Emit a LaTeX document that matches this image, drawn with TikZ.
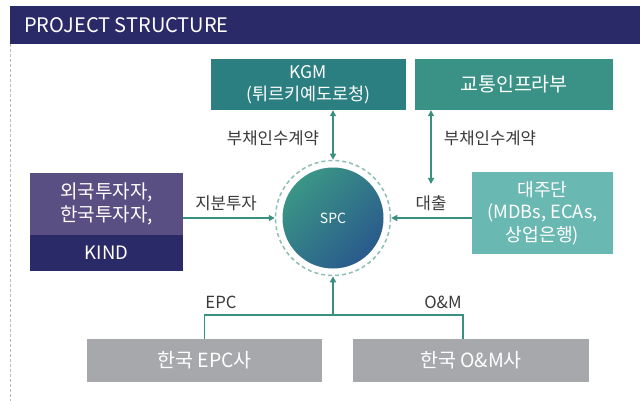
\documentclass[tikz,border=0pt]{standalone}
\usepackage{fontspec}
\setmainfont{Noto Sans CJK KR}
\usetikzlibrary{arrows.meta,calc}
\definecolor{navy}{HTML}{2B2A68}
\definecolor{purp}{HTML}{5A4F83}
\definecolor{tealA}{HTML}{2B7F80}
\definecolor{tealB}{HTML}{399285}
\definecolor{tealC}{HTML}{6AB8B2}
\definecolor{grayBox}{HTML}{A7A8AB}
\definecolor{arrowc}{HTML}{3A9080}
\definecolor{ringc}{HTML}{8DBDB4}
\definecolor{txt}{HTML}{3A3A3A}
\definecolor{circA}{HTML}{3A9686}
\definecolor{circM}{HTML}{2A8282}
\definecolor{circB}{HTML}{2A5A8C}
\tikzset{
  box/.style={rectangle, inner sep=0pt, text=white, align=center},
  lbl/.style={text=txt, font=\fontsize{16.7}{19}\selectfont, inner sep=0pt},
  conn/.style={draw=arrowc, line width=1.3pt},
  tip/.style={-{Triangle[length=6pt,width=6pt]}},
  tips/.style={{Triangle[length=6pt,width=6pt]}-{Triangle[length=6pt,width=6pt]}}
}
\begin{document}
\begin{tikzpicture}[x=1pt,y=-1pt]
\useasboundingbox (0,0) rectangle (640,401);
% header
\fill[navy] (10,6) rectangle (640,44);
\node[anchor=west, text=white, font=\fontsize{20}{22}\selectfont, inner sep=0pt] (title) at (24,25) {PROJECT STRUCTURE};
\draw[gray!55, line width=1pt, dash pattern=on 3pt off 2pt] (10,44) -- (10,401);
% boxes
\node[box, fill=tealA, minimum width=195pt, minimum height=51pt, font=\fontsize{17.5}{22.5}\selectfont] (kgm) at (308.5,84.5) {KGM\\(튀르키예도로청)};
\node[box, fill=tealB, minimum width=198pt, minimum height=51pt, font=\fontsize{19.5}{22}\selectfont] (moit) at (514,84.5) {교통인프라부};
\node[box, fill=purp, minimum width=153pt, minimum height=62pt, font=\fontsize{19}{23}\selectfont] (inv) at (106.5,204) {외국투자자,\\한국투자자,};
\node[box, fill=navy, minimum width=153pt, minimum height=36pt, font=\fontsize{18.5}{22}\selectfont] (kind) at (106.5,253) {KIND};
\node[box, fill=tealC, minimum width=141pt, minimum height=82pt, font=\fontsize{18.2}{22.5}\selectfont] (lend) at (542.5,213) {대주단\\(MDBs, ECAs,\\상업은행)};
\node[box, fill=grayBox, minimum width=235pt, minimum height=43pt, font=\fontsize{19.5}{22}\selectfont] (epc) at (204.5,360.5) {한국 EPC사};
\node[box, fill=grayBox, minimum width=236pt, minimum height=43pt, font=\fontsize{19.5}{22}\selectfont] (om) at (471,360.5) {한국 O\&M사};
% SPC circle
\shade[shading=axis, top color=circA, middle color=circM, bottom color=circB, shading angle=45] (333,218) circle (50.5);
\node[circle, minimum size=101pt, inner sep=0pt, text=white, font=\fontsize{14}{16}\selectfont] (spcin) at (333,218) {SPC};
\node[circle, draw=ringc, line width=1.5pt, dash pattern=on 4pt off 3pt, minimum size=115pt, inner sep=0pt] (spc) at (333,218) {};
% connectors
\draw[conn, tips] (kgm.south -| spc.north) -- (spc.north);
\coordinate (moitEnd) at (431,184);
\draw[conn, tips] (moit.south -| moitEnd) -- (moitEnd);
\draw[conn, tip] (inv.east |- spc.west) -- (spc.west);
\draw[conn, tip] (lend.west |- spc.east) -- (spc.east);
\coordinate (jL) at (epc.north |- 0,315);
\coordinate (jR) at (463,315);
\coordinate (jM) at (333,315);
\draw[conn, line width=1.2pt] (epc.north) -- (jL) -- (jR) -- (om.north -| jR);
\draw[conn, tip] (jM) -- (spc.south);
% labels
\node[lbl] (l1) at (273,138) {부채인수계약};
\node[lbl] (l2) at (490,138) {부채인수계약};
\node[lbl] (l3) at (226,203) {지분투자};
\node[lbl] (l4) at (431,203) {대출};
\node[lbl] (l5) at (221,302) {EPC};
\node[lbl] (l6) at (443,302) {O\&M};
\end{tikzpicture}
\end{document}
